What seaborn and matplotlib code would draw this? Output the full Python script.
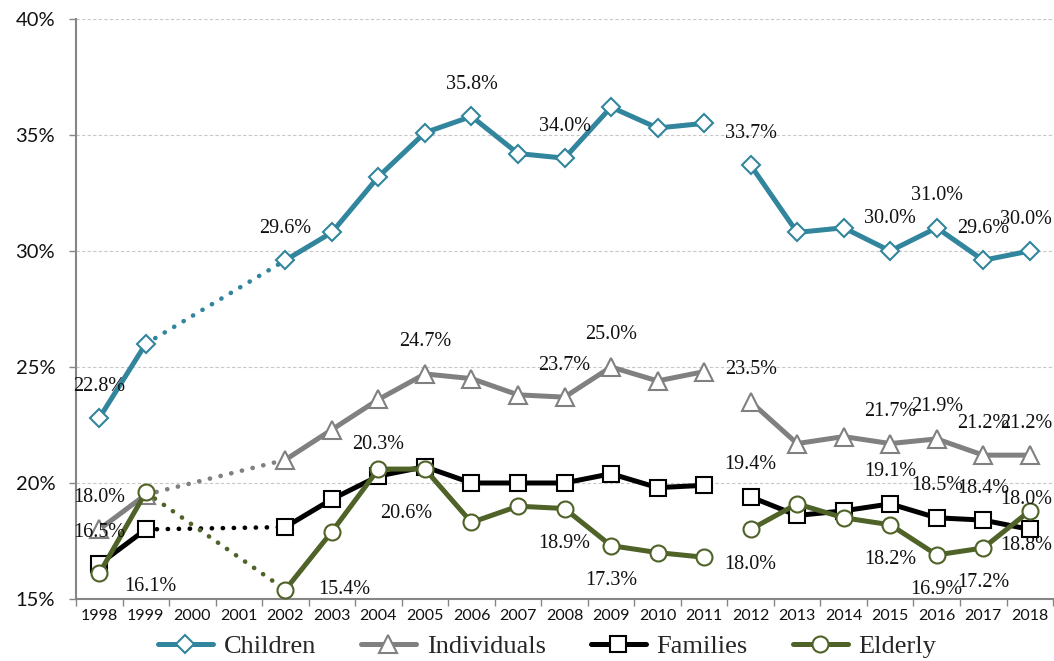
import numpy as np
import pandas as pd
import matplotlib
matplotlib.use("Agg")
import matplotlib.pyplot as plt
from matplotlib.lines import Line2D
from matplotlib.ticker import FuncFormatter
import seaborn as sns

# ---- data -------------------------------------------------------------
years = [str(y) for y in range(1998, 2019)]
nan = np.nan
children    = [22.8, 26.0, nan, nan, 29.6, 30.8, 33.2, 35.1, 35.8, 34.2, 34.0,
               36.2, 35.3, 35.5, 33.7, 30.8, 31.0, 30.0, 31.0, 29.6, 30.0]
individuals = [18.0, 19.5, nan, nan, 21.0, 22.3, 23.6, 24.7, 24.5, 23.8, 23.7,
               25.0, 24.4, 24.8, 23.5, 21.7, 22.0, 21.7, 21.9, 21.2, 21.2]
families    = [16.5, 18.0, nan, nan, 18.1, 19.3, 20.3, 20.7, 20.0, 20.0, 20.0,
               20.4, 19.8, 19.9, 19.4, 18.6, 18.8, 19.1, 18.5, 18.4, 18.0]
elderly     = [16.1, 19.6, nan, nan, 15.4, 17.9, 20.6, 20.6, 18.3, 19.0, 18.9,
               17.3, 17.0, 16.8, 18.0, 19.1, 18.5, 18.2, 16.9, 17.2, 18.8]
series_names = ["Children", "Individuals", "Families", "Elderly"]
series_values = [children, individuals, families, elderly]

# years that carry a value label, per series
labelled_years = {
    "Children":    ["1998", "2002", "2006", "2008", "2012", "2015", "2016", "2017", "2018"],
    "Individuals": ["1998", "2005", "2008", "2009", "2012", "2015", "2016", "2017", "2018"],
    "Families":    ["1998", "2004", "2012", "2015", "2016", "2017", "2018"],
    "Elderly":     ["1998", "2002", "2005", "2008", "2009", "2012", "2015", "2016", "2017", "2018"],
}

# solid runs of the series and the dotted bridge over the missing years
solid_runs = [("1998", "1999"), ("2002", "2011"), ("2012", "2018")]
bridge = ("1999", "2002")

# ---- styles -----------------------------------------------------------
colors = {"Children": "#31859C", "Individuals": "#808080",
          "Families": "#000000", "Elderly": "#4F6228"}
markers = {"Children": "D", "Individuals": "^", "Families": "s", "Elderly": "o"}
msizes = {"Children": 9.0, "Individuals": 12.5, "Families": 12.0, "Elderly": 11.5}
default_offset = {"Children": (0, 32), "Individuals": (0, 32),
                  "Families": (0, 32), "Elderly": (0, -35)}
special_offset = {("Elderly", "1998"): (51, -13),
                  ("Elderly", "2002"): (59, 0),
                  ("Elderly", "2005"): (-19, -44),
                  ("Children", "2018"): (-4, 31),
                  ("Individuals", "2018"): (-4, 32),
                  ("Families", "2018"): (-4, 30),
                  ("Elderly", "2018"): (-4, -35)}

sns.set_theme(style="white")
plt.rcParams["font.family"] = ["Lato", "DejaVu Sans"]
serif = "Liberation Serif"

# long table
rows = []
for name, vals in zip(series_names, series_values):
    for i, (yr, v) in enumerate(zip(years, vals)):
        rows.append({"series": name, "year": yr, "pos": i, "value": v})
df = pd.DataFrame(rows)

fig = plt.figure(figsize=(10.54, 6.61), dpi=100)
ax = fig.add_axes([0.0721, 0.0938, 0.9270, 0.8775])

line_w = 3.6
dot_style = (0, (0.05, 2.35))

# dotted bridges first
for k, name in enumerate(series_names):
    sub = df[(df.series == name) & (df.year.isin(bridge))]
    sns.lineplot(data=sub, x="pos", y="value", ax=ax, color=colors[name],
                 lw=3.3, linestyle=dot_style, dash_capstyle="round",
                 legend=False, zorder=2 + k * 0.1)

# solid runs with markers
for k, name in enumerate(series_names):
    parts = []
    for seg, (a, b) in enumerate(solid_runs):
        ia, ib = years.index(a), years.index(b)
        part = df[(df.series == name) & (df.pos >= ia) & (df.pos <= ib)].copy()
        part["segment"] = seg
        parts.append(part)
    sub = pd.concat(parts)
    sns.lineplot(data=sub, x="pos", y="value", units="segment", estimator=None,
                 ax=ax, color=colors[name], lw=line_w, marker=markers[name],
                 markersize=msizes[name], markerfacecolor="white",
                 markeredgecolor=colors[name], markeredgewidth=1.5,
                 legend=False, zorder=3 + k)

# value labels
for name, vals in zip(series_names, series_values):
    for yr in labelled_years[name]:
        i = years.index(yr)
        v = vals[i]
        dx, dy = special_offset.get((name, yr), default_offset[name])
        ax.annotate(f"{v:.1f}%", xy=(i, v), xytext=(dx, dy),
                    textcoords="offset pixels", ha="center", va="center",
                    fontfamily=serif, fontsize=14.5, color="#111111", zorder=10)

# axes
ax.set_xlim(-0.5, len(years) - 0.5)
ax.set_ylim(15, 40)
ax.set_xticks(range(len(years)))
ax.set_xticklabels(years)
ax.set_xticks(np.arange(-0.5, len(years), 1), minor=True)
ax.set_yticks([15, 20, 25, 30, 35, 40])
ax.yaxis.set_major_formatter(FuncFormatter(lambda v, _: f"{v:.0f}%"))
ax.set_xlabel("")
ax.set_ylabel("")

ax.tick_params(axis="x", which="major", length=0, pad=7, labelsize=11.5,
               labelcolor="#111111")
ax.tick_params(axis="x", which="minor", length=5, width=1, color="#868686",
               direction="out", bottom=True)
ax.tick_params(axis="y", which="major", length=5, width=1, color="#868686",
               direction="out", left=True, pad=10, labelsize=14.5,
               labelcolor="#111111")

ax.grid(axis="y", linestyle=(0, (3, 2)), color="#C8C8C8", lw=0.8)
ax.grid(axis="x", visible=False)
ax.set_axisbelow(True)
for side in ("top", "right"):
    ax.spines[side].set_visible(False)
for side in ("left", "bottom"):
    ax.spines[side].set_color("#868686")
    ax.spines[side].set_linewidth(1.5)

# legend
handles = [Line2D([0], [0], color=colors[n], lw=line_w, marker=markers[n],
                  markersize=msizes[n], markerfacecolor="white",
                  markeredgecolor=colors[n], markeredgewidth=1.5)
           for n in series_names]
fig.legend(handles, series_names, loc="center", bbox_to_anchor=(0.519, 0.022),
           ncol=4, frameon=False, prop={"family": serif, "size": 19},
           handlelength=2.1, handletextpad=0.4, columnspacing=1.7,
           borderpad=0, numpoints=1)

fig.savefig("out.png", dpi=100)
